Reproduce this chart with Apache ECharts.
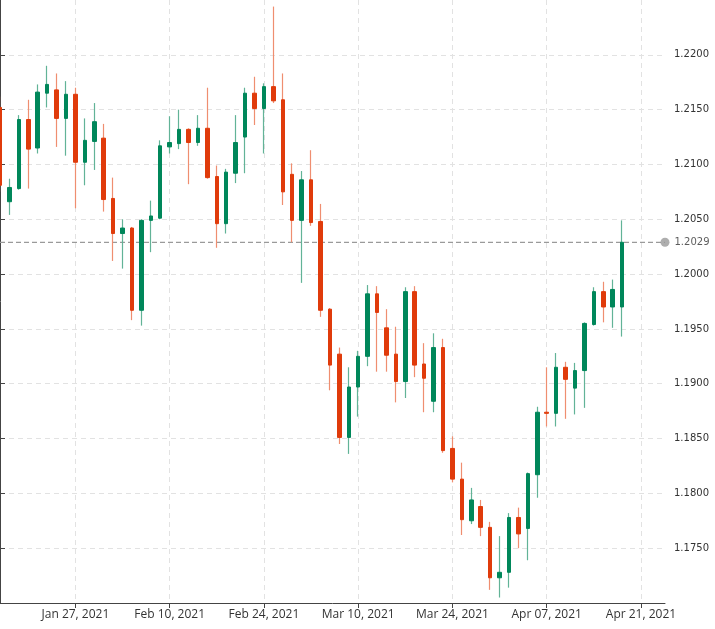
<!DOCTYPE html>
<html>
<head>
<meta charset="utf-8">
<script src="https://cdn.jsdelivr.net/npm/echarts@6/dist/echarts.min.js"></script>
<style>
html,body{margin:0;padding:0;background:#fff;}
#chart{width:715px;height:629px;}
</style>
</head>
<body>
<div id="chart"></div>
<script>
// Trading days (index on x axis); the last entries only carry axis labels
const dates = [
  'Jan 15, 2021','Jan 18, 2021','Jan 19, 2021','Jan 20, 2021','Jan 21, 2021','Jan 22, 2021','Jan 25, 2021','Jan 26, 2021','Jan 27, 2021','Jan 28, 2021','Jan 29, 2021',
  'Feb 01, 2021','Feb 02, 2021','Feb 03, 2021','Feb 04, 2021','Feb 05, 2021','Feb 08, 2021','Feb 09, 2021','Feb 10, 2021','Feb 11, 2021','Feb 12, 2021',
  'Feb 15, 2021','Feb 16, 2021','Feb 17, 2021','Feb 18, 2021','Feb 19, 2021','Feb 22, 2021','Feb 23, 2021','Feb 24, 2021','Feb 25, 2021','Feb 26, 2021',
  'Mar 01, 2021','Mar 02, 2021','Mar 03, 2021','Mar 04, 2021','Mar 05, 2021','Mar 08, 2021','Mar 09, 2021','Mar 10, 2021','Mar 11, 2021','Mar 12, 2021',
  'Mar 15, 2021','Mar 16, 2021','Mar 17, 2021','Mar 18, 2021','Mar 19, 2021','Mar 22, 2021','Mar 23, 2021','Mar 24, 2021','Mar 25, 2021','Mar 26, 2021',
  'Mar 29, 2021','Mar 30, 2021','Mar 31, 2021','Apr 01, 2021','Apr 02, 2021','Apr 05, 2021','Apr 06, 2021','Apr 07, 2021','Apr 08, 2021','Apr 09, 2021',
  'Apr 12, 2021','Apr 13, 2021','Apr 14, 2021','Apr 15, 2021','Apr 16, 2021','Apr 19, 2021','Apr 20, 2021','Apr 21, 2021','Apr 22, 2021','Apr 23, 2021'
];
const open = [
  1.2152,1.2066,1.2078,1.2141,1.2115,1.2165,1.2168,1.2142,1.2164,1.2102,1.2121,
  1.2124,1.2069,1.2037,1.2042,1.1967,1.2049,1.2051,1.2116,1.2119,1.2132,
  1.2120,1.2133,1.2089,1.2046,1.2092,1.2125,1.2165,1.2151,1.2171,1.2159,
  1.2091,1.2049,1.2086,1.2048,1.1968,1.1927,1.1851,1.1897,1.1925,1.1982,
  1.1951,1.1927,1.1902,1.1984,1.1918,1.1884,1.1933,1.1841,1.1813,1.1775,
  1.1788,1.1769,1.1723,1.1728,1.1778,1.1768,1.1817,1.1874,1.1873,1.1915,
  1.1896,1.1912,1.1954,1.1984,1.1970,1.1970
];
const close = [
  1.2081,1.2079,1.2141,1.2114,1.2166,1.2173,1.2142,1.2164,1.2102,1.2122,1.2139,
  1.2068,1.2037,1.2042,1.1967,1.2049,1.2053,1.2117,1.2120,1.2132,1.2120,
  1.2133,1.2088,1.2046,1.2093,1.2120,1.2165,1.2151,1.2171,1.2158,1.2075,
  1.2049,1.2086,1.2047,1.1967,1.1917,1.1851,1.1897,1.1925,1.1982,1.1965,
  1.1926,1.1902,1.1984,1.1917,1.1905,1.1933,1.1839,1.1813,1.1776,1.1794,
  1.1769,1.1723,1.1728,1.1778,1.1763,1.1818,1.1874,1.1873,1.1915,1.1904,
  1.1912,1.1955,1.1984,1.1970,1.1986,1.2029
];
const low = [
  1.2075,1.2054,1.2077,1.2078,1.2110,1.2152,1.2116,1.2108,1.2060,1.2081,1.2095,
  1.2057,1.2012,1.2005,1.1958,1.1953,1.2020,1.2050,1.2110,1.2114,1.2082,
  1.2117,1.2087,1.2024,1.2037,1.2083,1.2092,1.2136,1.2110,1.2156,1.2063,
  1.2029,1.1992,1.2044,1.1961,1.1894,1.1845,1.1836,1.1870,1.1916,1.1911,
  1.1911,1.1883,1.1887,1.1906,1.1874,1.1874,1.1837,1.1810,1.1762,1.1772,
  1.1761,1.1712,1.1705,1.1714,1.1750,1.1739,1.1796,1.1861,1.1861,1.1868,
  1.1872,1.1878,1.1953,1.1956,1.1951,1.1943
];
const high = [
  1.2162,1.2087,1.2145,1.2159,1.2173,1.2190,1.2183,1.2176,1.2170,1.2142,1.2156,
  1.2137,1.2088,1.2050,1.2043,1.2050,1.2067,1.2122,1.2144,1.2150,1.2133,
  1.2145,1.2170,1.2099,1.2096,1.2145,1.2170,1.2180,1.2174,1.2244,1.2183,
  1.2101,1.2094,1.2113,1.2064,1.1969,1.1933,1.1915,1.1930,1.1990,1.1989,
  1.1968,1.1952,1.1988,1.1989,1.1937,1.1946,1.1941,1.1852,1.1828,1.1805,
  1.1794,1.1774,1.1761,1.1782,1.1787,1.1819,1.1879,1.1915,1.1928,1.1920,
  1.1919,1.1956,1.1988,1.1993,1.1995,1.2049
];
const xTickLabels = ['Jan 27, 2021','Feb 10, 2021','Feb 24, 2021','Mar 10, 2021','Mar 24, 2021','Apr 07, 2021','Apr 21, 2021'];
const yTickLabels = ['1.1750','1.1800','1.1850','1.1900','1.1950','1.2000','1.2050','1.2100','1.2150','1.2200'];

const UP = '#00875a', DOWN = '#e03b0b';
const UP_WICK = '#62b397', DOWN_WICK = '#ef8e70';
const X_MIN = 0, X_MAX = 70.55;

const wickData = open.map((o, i) => [i, o, close[i], low[i], high[i]]);
const bodyData = open.map((o, i) => [i, o, close[i], Math.min(o, close[i]), Math.max(o, close[i])]);
const xTickValues = xTickLabels.map(l => dates.indexOf(l));
const yTickValues = yTickLabels.map(Number);
const lastClose = close[close.length - 1];

const chart = echarts.init(document.getElementById('chart'), null, {renderer: 'canvas'});
chart.setOption({
  animation: false,
  backgroundColor: '#ffffff',
  grid: {left: 0, right: 50, top: 0, bottom: 26, containLabel: false},
  xAxis: {
    type: 'value',
    min: X_MIN,
    max: X_MAX,
    axisLine: {show: true, lineStyle: {color: '#444', width: 1}},
    axisTick: {show: true, length: 5, customValues: xTickValues, lineStyle: {color: '#444'}},
    axisLabel: {
      customValues: xTickValues,
      formatter: v => dates[Math.round(v)] || '',
      color: '#333', fontFamily: 'Open Sans', fontSize: 12, margin: 6
    },
    splitLine: {show: true, lineStyle: {color: '#e2e2e2', type: [5, 4], width: 1}}
  },
  yAxis: {
    type: 'value',
    position: 'right',
    min: 1.17,
    max: 1.225,
    interval: 0.005,
    scale: true,
    axisLine: {show: true, lineStyle: {color: '#444', width: 1}},
    axisTick: {show: true, length: 5, customValues: yTickValues, lineStyle: {color: '#444'}},
    axisLabel: {
      customValues: yTickValues,
      formatter: v => v.toFixed(4),
      color: '#333', fontFamily: 'DejaVu Sans', fontSize: 10, margin: 9
    },
    splitLine: {show: true, lineStyle: {color: '#e2e2e2', type: [5, 4], width: 1}}
  },
  series: [
    {
      type: 'line',
      name: 'last',
      data: [[X_MIN, lastClose], [X_MAX, lastClose]],
      showSymbol: false,
      symbol: 'none',
      silent: true,
      z: 1,
      lineStyle: {color: '#9a9a9a', type: [5, 3], width: 1.2}
    },
    {
      type: 'candlestick',
      name: 'wick',
      data: wickData,
      encode: {x: 0, y: [1, 2, 3, 4]},
      barWidth: 1,
      z: 2,
      itemStyle: {color: UP_WICK, color0: DOWN_WICK, borderColor: UP_WICK, borderColor0: DOWN_WICK, borderWidth: 1.2}
    },
    {
      type: 'candlestick',
      name: 'body',
      data: bodyData,
      encode: {x: 0, y: [1, 2, 3, 4]},
      barWidth: 4,
      z: 3,
      itemStyle: {color: UP, color0: DOWN, borderColor: UP, borderColor0: DOWN, borderWidth: 1}
    },
    {
      type: 'scatter',
      name: 'lastDot',
      data: [[X_MAX, lastClose]],
      symbol: 'circle',
      symbolSize: 9,
      clip: false,
      silent: true,
      z: 5,
      itemStyle: {color: '#9a9a9a'},
      label: {
        show: true, position: 'right', distance: 5,
        formatter: () => lastClose.toFixed(4),
        color: '#333', fontFamily: 'DejaVu Sans', fontSize: 10
      }
    }
  ]
});
</script>
</body>
</html>
